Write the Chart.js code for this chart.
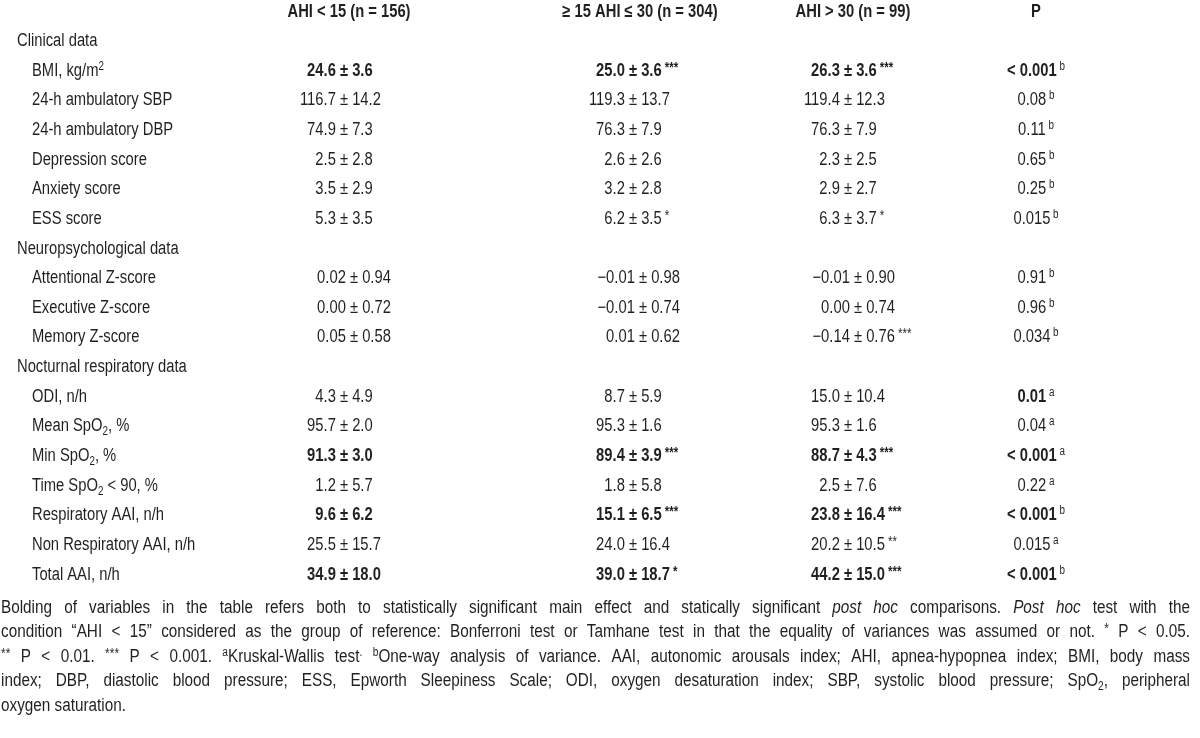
<!DOCTYPE html>
<html>
<head>
<meta charset="utf-8">
<script src="https://cdn.jsdelivr.net/npm/chart.js@4.4.1/dist/chart.umd.min.js"></script>
<style>
  html, body { margin: 0; padding: 0; background: #fff; }
</style>
</head>
<body>
<canvas id="tableChart" width="1200" height="738"></canvas>
<script>
const headers = ['AHI < 15 (n = 156)', '≥ 15 AHI ≤ 30 (n = 304)', 'AHI > 30 (n = 99)', 'P'];
const sections = ['Clinical data', 'Neuropsychological data', 'Nocturnal respiratory data'];
const variables = ['BMI, kg/m^2', '24-h ambulatory SBP', '24-h ambulatory DBP', 'Depression score', 'Anxiety score', 'ESS score',
  'Attentional Z-score', 'Executive Z-score', 'Memory Z-score',
  'ODI, n/h', 'Mean SpO_2, %', 'Min SpO_2, %', 'Time SpO_2 < 90, %', 'Respiratory AAI, n/h', 'Non Respiratory AAI, n/h', 'Total AAI, n/h'];
const variableSection = [0, 0, 0, 0, 0, 0, 1, 1, 1, 2, 2, 2, 2, 2, 2, 2];
const ahiLow = ['24.6 ± 3.6', '116.7 ± 14.2', '74.9 ± 7.3', '2.5 ± 2.8', '3.5 ± 2.9', '5.3 ± 3.5',
  '0.02 ± 0.94', '0.00 ± 0.72', '0.05 ± 0.58',
  '4.3 ± 4.9', '95.7 ± 2.0', '91.3 ± 3.0', '1.2 ± 5.7', '9.6 ± 6.2', '25.5 ± 15.7', '34.9 ± 18.0'];
const ahiMid = ['25.0 ± 3.6', '119.3 ± 13.7', '76.3 ± 7.9', '2.6 ± 2.6', '3.2 ± 2.8', '6.2 ± 3.5',
  '−0.01 ± 0.98', '−0.01 ± 0.74', '0.01 ± 0.62',
  '8.7 ± 5.9', '95.3 ± 1.6', '89.4 ± 3.9', '1.8 ± 5.8', '15.1 ± 6.5', '24.0 ± 16.4', '39.0 ± 18.7'];
const ahiMidSig = ['***', '', '', '', '', '*', '', '', '', '', '', '***', '', '***', '', '*'];
const ahiHigh = ['26.3 ± 3.6', '119.4 ± 12.3', '76.3 ± 7.9', '2.3 ± 2.5', '2.9 ± 2.7', '6.3 ± 3.7',
  '−0.01 ± 0.90', '0.00 ± 0.74', '−0.14 ± 0.76',
  '15.0 ± 10.4', '95.3 ± 1.6', '88.7 ± 4.3', '2.5 ± 7.6', '23.8 ± 16.4', '20.2 ± 10.5', '44.2 ± 15.0'];
const ahiHighSig = ['***', '', '', '', '', '*', '', '', '***', '', '', '***', '', '***', '**', '***'];
const pValues = ['< 0.001', '0.08', '0.11', '0.65', '0.25', '0.015', '0.91', '0.96', '0.034',
  '0.01', '0.04', '< 0.001', '0.22', '< 0.001', '0.015', '< 0.001'];
const pTest = ['b', 'b', 'b', 'b', 'b', 'b', 'b', 'b', 'b', 'a', 'a', 'a', 'a', 'b', 'a', 'b'];
const boldValues = [true, false, false, false, false, false, false, false, false, false, false, true, false, true, false, true];
const boldP = [true, false, false, false, false, false, false, false, false, true, false, true, false, true, false, true];

const footnote = [
  'Bolding of variables in the table refers both to statistically significant main effect and statically significant <i>post hoc</i> comparisons. <i>Post hoc</i> test with the',
  'condition “AHI < 15” considered as the group of reference: Bonferroni test or Tamhane test in that the equality of variances was assumed or not. <star>*</star> P < 0.05.',
  '<star>**</star> P < 0.01. <star>***</star> P < 0.001. <sup>a</sup>Kruskal-Wallis test<sup>.</sup> <sup>b</sup>One-way analysis of variance. AAI, autonomic arousals index; AHI, apnea-hypopnea index; BMI, body mass',
  'index; DBP, diastolic blood pressure; ESS, Epworth Sleepiness Scale; ODI, oxygen desaturation index; SBP, systolic blood pressure; SpO<sub>2</sub>, peripheral',
  'oxygen saturation.'
];

// layout
const colX = [344, 633, 848, 1036];
const headerShift = [5, 7, 5, 0];
const labelX = 17, indentX = 32, zShift = 10;
const BASE = 18, SMALL = 12, STAR = 14, INK = '#231f20';

function hasFont(name) {
  const c = document.createElement('canvas').getContext('2d');
  const s = 'Clinical data mmmwww';
  c.font = '40px monospace';
  const a = c.measureText(s).width;
  c.font = `40px '${name}', monospace`;
  return c.measureText(s).width !== a;
}
const narrow = hasFont('Liberation Sans Narrow');
const family = narrow ? "'Liberation Sans Narrow'" : "'Liberation Sans', Arial";
const sxBody = narrow ? 1 : 0.82;
const sxFoot = narrow ? 1.03 : 0.85;

function segFont(s) {
  const size = s.star ? STAR : (s.sup || s.sub) ? SMALL : BASE;
  return `${s.italic ? 'italic ' : ''}${s.bold ? 'bold ' : ''}${size}px ${family}`;
}
function segDy(s) { return s.star ? -4 : s.sup ? -6 : s.sub ? 4 : 0; }
function segWidth(c, s, sx) { c.font = segFont(s); return c.measureText(s.t).width * sx; }
function drawSegs(c, segs, x, y, sx) {
  let cx = x;
  segs.forEach(s => {
    c.font = segFont(s);
    c.save();
    c.translate(cx, y + segDy(s));
    c.scale(sx, 1);
    c.fillText(s.t, 0, 0);
    c.restore();
    cx += c.measureText(s.t).width * sx;
  });
  return cx;
}

// 'kg/m^2' -> superscript, 'SpO_2' -> subscript
function parseLabel(str) {
  const segs = [];
  let rest = str;
  const re = /([\^_])(\w)/;
  let m;
  while ((m = re.exec(rest))) {
    if (m.index > 0) segs.push({ t: rest.slice(0, m.index) });
    segs.push(m[1] === '^' ? { t: m[2], sup: true } : { t: m[2], sub: true });
    rest = rest.slice(m.index + 2);
  }
  if (rest) segs.push({ t: rest });
  return segs;
}

// split a footnote line into words, each word a list of styled pieces
function parseLine(str) {
  const words = [];
  let cur = [], style = {};
  const parts = str.split(/(<\/?(?:i|sup|sub|star)>)/);
  parts.forEach(p => {
    const tag = p.match(/^<(\/?)(i|sup|sub|star)>$/);
    if (tag) {
      const key = tag[2] === 'i' ? 'italic' : tag[2];
      style = Object.assign({}, style, { [key]: !tag[1] });
      return;
    }
    p.split(/( )/).forEach(bit => {
      if (bit === ' ') { if (cur.length) words.push(cur); cur = []; }
      else if (bit) cur.push(Object.assign({ t: bit }, style));
    });
  });
  if (cur.length) words.push(cur);
  return words;
}

// rows on the y axis
const rowIds = ['header'];
const rowVar = [];
sections.forEach((sec, si) => {
  rowIds.push(sec);
  variables.forEach((v, vi) => { if (variableSection[vi] === si) { rowIds.push(v); rowVar.push(vi); } });
});

const labelCells = rowIds.slice(1).map(id => ({
  point: { x: sections.includes(id) ? labelX : indentX, y: id },
  segs: parseLabel(id)
}));
const valueCols = [[ahiLow, null], [ahiMid, ahiMidSig], [ahiHigh, ahiHighSig]];

const datasets = [];
datasets.push({
  label: 'rows', align: 'left',
  data: labelCells.map(c => c.point), cells: labelCells.map(c => c.segs)
});
datasets.push({
  label: 'headers', align: 'center',
  data: headers.map((h, i) => ({ x: colX[i] + headerShift[i], y: 'header' })),
  cells: headers.map(h => [{ t: h, bold: true }])
});
valueCols.forEach(([vals, sig], ci) => {
  datasets.push({
    label: headers[ci], align: 'pm',
    data: rowVar.map(vi => ({ x: colX[ci] + (variableSection[vi] === 1 ? zShift : 0), y: variables[vi] })),
    cells: rowVar.map(vi => {
      const segs = [{ t: vals[vi], bold: boldValues[vi] }];
      if (sig && sig[vi]) segs.push({ t: ' ' + sig[vi], star: true, bold: boldValues[vi] });
      return segs;
    })
  });
});
datasets.push({
  label: 'P', align: 'center',
  data: rowVar.map(vi => ({ x: colX[3], y: variables[vi] })),
  cells: rowVar.map(vi => [{ t: pValues[vi], bold: boldP[vi] }, { t: ' ' + pTest[vi], sup: true }])
});

const tableText = {
  id: 'tableText',
  afterDatasetsDraw(chart) {
    const c = chart.ctx;
    c.save();
    c.fillStyle = INK;
    c.textBaseline = 'alphabetic';
    c.textAlign = 'left';
    chart.data.datasets.forEach((ds, di) => {
      chart.getDatasetMeta(di).data.forEach((pt, i) => {
        const segs = ds.cells[i];
        const y = pt.y + 6.5;
        let x = pt.x;
        if (ds.align === 'center') {
          x -= segs.reduce((w, s) => w + segWidth(c, s, sxBody), 0) / 2;
        } else if (ds.align === 'pm') {
          const t = segs[0].t, k = t.indexOf('±');
          const base = { bold: segs[0].bold };
          x -= segWidth(c, Object.assign({ t: t.slice(0, k) }, base), sxBody) + segWidth(c, Object.assign({ t: '±' }, base), sxBody) / 2;
        }
        drawSegs(c, segs, x, y, sxBody);
      });
    });

    // footnote, justified
    const left = 1, right = 1190;
    const top = chart.chartArea.bottom + 33;
    footnote.forEach((line, li) => {
      const words = parseLine(line);
      const widths = words.map(w => w.reduce((a, s) => a + segWidth(c, s, sxFoot), 0));
      const total = widths.reduce((a, b) => a + b, 0);
      const last = li === footnote.length - 1;
      c.font = segFont({});
      const natural = c.measureText(' ').width * sxFoot;
      const space = last ? natural : Math.max(2, (right - left - total) / (words.length - 1));
      let x = left;
      const y = top + li * 24.5 + 6.5;
      words.forEach((w, wi) => {
        drawSegs(c, w, x, y, sxFoot);
        x += widths[wi] + space;
      });
    });
    c.restore();
  }
};

const ctx = document.getElementById('tableChart').getContext('2d');
const tableChart = new Chart(ctx, {
  type: 'scatter',
  data: { datasets: datasets },
  options: {
    responsive: false,
    animation: false,
    devicePixelRatio: 1,
    layout: { padding: { top: 10, bottom: 165, left: 0, right: 0 } },
    elements: { point: { radius: 0, hoverRadius: 0 } },
    scales: {
      x: { type: 'linear', min: 0, max: 1200, display: false },
      y: { type: 'category', labels: rowIds, offset: false, display: false }
    },
    plugins: { legend: { display: false }, tooltip: { enabled: false } }
  },
  plugins: [tableText]
});
</script>
</body>
</html>
